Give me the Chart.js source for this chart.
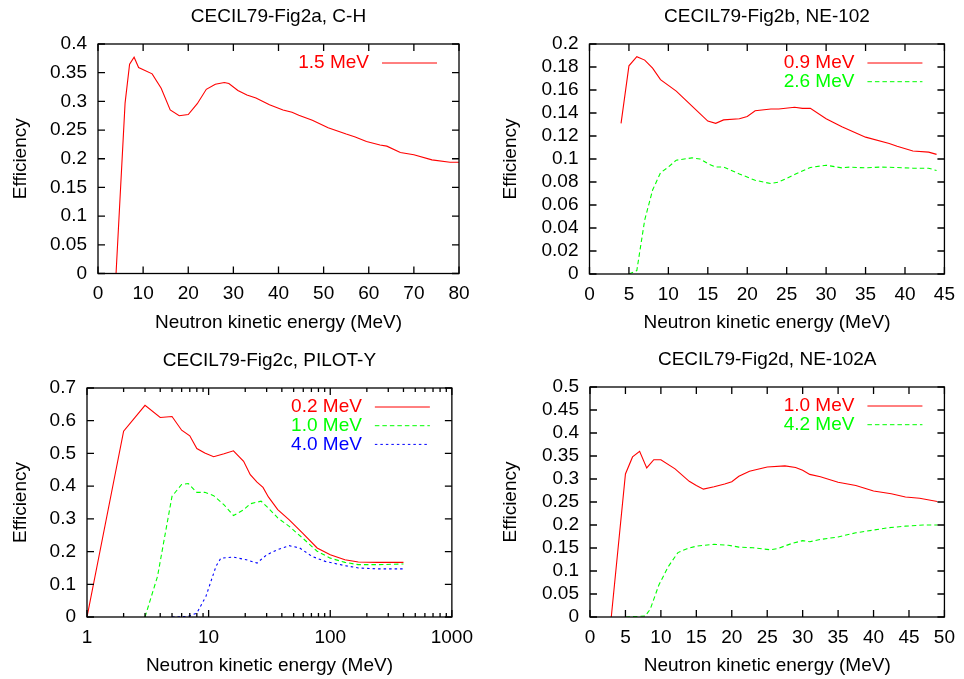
<!DOCTYPE html>
<html>
<head>
<meta charset="utf-8">
<script src="https://cdn.jsdelivr.net/npm/chart.js@4.4.1/dist/chart.umd.min.js"></script>
<style>
  body { margin: 0; background: #fff; width: 964px; height: 679px; position: relative; overflow: hidden; }
  canvas { position: absolute; }
</style>
</head>
<body>
<canvas id="figA" style="left:0;top:0"></canvas>
<canvas id="figB" style="left:482px;top:0"></canvas>
<canvas id="figC" style="left:0;top:340px"></canvas>
<canvas id="figD" style="left:482px;top:340px"></canvas>
<script>
// Fig 2a, C-H, threshold 1.5 MeV
const energyA = [4, 6, 7, 8, 9, 12, 14, 16, 18, 20, 22, 24, 26, 28, 29, 31, 33, 35, 38, 41, 43, 44.5, 47.5, 51, 55, 57, 59.5, 62.5, 64, 67, 70, 74, 78, 80];
const effA15 = [0, 0.297, 0.365, 0.377, 0.359, 0.348, 0.323, 0.285, 0.275, 0.277, 0.296, 0.321, 0.330, 0.333, 0.331, 0.319, 0.311, 0.306, 0.294, 0.285, 0.281, 0.276, 0.267, 0.254, 0.243, 0.238, 0.230, 0.224, 0.222, 0.211, 0.207, 0.198, 0.194, 0.194];

// Fig 2b, NE-102
const energyB09 = [4, 5, 6, 7, 8, 9, 11, 13, 15, 16, 17, 19, 20, 21, 23, 24, 26, 27, 28, 30, 32, 34, 35, 38, 39, 41, 43, 44];
const effB09 = [0.131, 0.181, 0.189, 0.186, 0.179, 0.169, 0.159, 0.146, 0.133, 0.131, 0.134, 0.135, 0.137, 0.142, 0.1435, 0.1435, 0.145, 0.144, 0.144, 0.135, 0.128, 0.122, 0.119, 0.1135, 0.111, 0.107, 0.106, 0.104];
const energyB26 = [5, 6, 7, 8, 9, 10, 11, 13, 14, 15, 16, 17, 19, 21, 23, 24, 26, 28, 30, 32, 33, 34, 35, 37, 39, 41, 43, 44];
const effB26 = [0, 0.003, 0.047, 0.073, 0.088, 0.093, 0.099, 0.101, 0.100, 0.096, 0.093, 0.093, 0.087, 0.0815, 0.0786, 0.080, 0.0865, 0.0926, 0.0946, 0.0923, 0.093, 0.0926, 0.0923, 0.093, 0.0926, 0.092, 0.092, 0.090];

// Fig 2c, PILOT-Y
const energyC02 = [1, 2, 3, 4, 5, 6, 7, 8, 9.3, 11, 13.4, 16, 19.4, 22, 25, 28, 31, 37, 46, 59, 78, 100, 132, 170, 245, 400];
const effC02 = [0, 0.568, 0.647, 0.610, 0.613, 0.571, 0.554, 0.515, 0.501, 0.490, 0.499, 0.508, 0.476, 0.435, 0.412, 0.396, 0.367, 0.328, 0.297, 0.257, 0.211, 0.190, 0.175, 0.168, 0.167, 0.167];
const energyC10 = [3, 3.8, 5, 6, 6.8, 8, 9.3, 11, 13.4, 16, 19.4, 22, 27, 31, 37, 46, 59, 78, 100, 132, 170, 245, 400];
const effC10 = [0, 0.124, 0.369, 0.405, 0.408, 0.381, 0.381, 0.371, 0.343, 0.310, 0.328, 0.346, 0.354, 0.333, 0.303, 0.277, 0.242, 0.201, 0.180, 0.167, 0.160, 0.160, 0.162];
const energyC40 = [5, 6.8, 8, 9.5, 11.5, 12.6, 16, 20.4, 25, 30, 37, 46, 56, 71, 91, 132, 170, 245, 400];
const effC40 = [0, 0.002, 0.012, 0.063, 0.155, 0.180, 0.183, 0.175, 0.165, 0.190, 0.206, 0.218, 0.211, 0.185, 0.170, 0.157, 0.150, 0.147, 0.147];

// Fig 2d, NE-102A
const energyD10 = [3, 5, 6, 7, 8, 9, 10, 12, 14, 15, 16, 17.5, 19, 20, 21, 22.5, 25, 27.5, 29, 30, 31, 32.5, 35, 37.5, 40, 42.5, 44.5, 46.5, 49];
const effD10 = [0, 0.311, 0.348, 0.360, 0.324, 0.342, 0.342, 0.322, 0.295, 0.286, 0.278, 0.283, 0.289, 0.294, 0.306, 0.317, 0.326, 0.3285, 0.325, 0.319, 0.310, 0.305, 0.293, 0.286, 0.274, 0.268, 0.261, 0.258, 0.251];
const energyD42 = [5, 7.8, 8.5, 9.7, 11, 12.4, 13.6, 15, 16, 17.5, 19.5, 21, 23, 25.5, 26.5, 28.5, 30, 31, 32.5, 35, 37.5, 40, 42, 44.5, 47, 49];
const effD42 = [0, 0.002, 0.017, 0.069, 0.1085, 0.14, 0.148, 0.154, 0.1556, 0.158, 0.156, 0.152, 0.1505, 0.146, 0.149, 0.160, 0.166, 0.1635, 0.1686, 0.174, 0.183, 0.189, 0.194, 0.1975, 0.200, 0.200];

const logTicks = [1, 10, 100, 1000];

const FONT = { family: "'Liberation Sans', Arial, sans-serif", size: 19 };
const RED = "#ff0000", GREEN = "#00ff00", BLUE = "#0000ff";

function pts(xs, ys) {
  return xs.map((x, i) => ({ x: x, y: ys[i] }));
}

// gnuplot style frame with inward ticks on all four sides
const frameTicks = {
  id: "frameTicks",
  afterDatasetsDraw(chart) {
    const { ctx, chartArea: a, scales: { x, y } } = chart;
    ctx.save();
    ctx.strokeStyle = "#000";
    ctx.lineWidth = 1.3;
    ctx.beginPath();
    const major = 7, minor = 4;
    x.ticks.forEach((t) => {
      const px = x.getPixelForValue(t.value);
      ctx.moveTo(px, a.bottom); ctx.lineTo(px, a.bottom - major);
      ctx.moveTo(px, a.top); ctx.lineTo(px, a.top + major);
    });
    if (x.type === "logarithmic") {
      for (let d = 1; d < 1000; d *= 10) {
        for (let k = 2; k <= 9; k++) {
          const px = x.getPixelForValue(d * k);
          ctx.moveTo(px, a.bottom); ctx.lineTo(px, a.bottom - minor);
          ctx.moveTo(px, a.top); ctx.lineTo(px, a.top + minor);
        }
      }
    }
    y.ticks.forEach((t) => {
      const py = y.getPixelForValue(t.value);
      ctx.moveTo(a.left, py); ctx.lineTo(a.left + major, py);
      ctx.moveTo(a.right, py); ctx.lineTo(a.right - major, py);
    });
    ctx.stroke();
    ctx.strokeRect(a.left, a.top, a.right - a.left, a.bottom - a.top);
    ctx.restore();
  },
};

// key inside the top right corner: text right aligned, sample line after it
const keyBox = {
  id: "keyBox",
  afterDraw(chart) {
    const { ctx, chartArea: a } = chart;
    ctx.save();
    ctx.font = FONT.size + "px " + FONT.family;
    ctx.textAlign = "right";
    ctx.textBaseline = "middle";
    chart.data.datasets.forEach((ds, i) => {
      const yy = a.top + 19 + i * 18.7;
      ctx.fillStyle = ds.borderColor;
      ctx.fillText(ds.label, a.right - 90, yy);
      ctx.strokeStyle = ds.borderColor;
      ctx.lineWidth = 1;
      ctx.setLineDash(ds.borderDash || []);
      ctx.beginPath();
      ctx.moveTo(a.right - 77, yy);
      ctx.lineTo(a.right - 22, yy);
      ctx.stroke();
    });
    ctx.restore();
  },
};

function makePanel(id, box, title, series, xOpts, yOpts) {
  const canvas = document.getElementById(id);
  canvas.width = box.w;
  canvas.height = box.h;
  canvas.style.width = box.w + "px";
  canvas.style.height = box.h + "px";

  const datasets = series.map((s) => ({
    label: s.label,
    data: s.data,
    borderColor: s.color,
    borderWidth: 1.1,
    borderDash: s.dash,
    pointRadius: 0,
    tension: 0,
    fill: false,
  }));

  return new Chart(canvas, {
    type: "line",
    data: { datasets },
    options: {
      responsive: false,
      animation: false,
      layout: { padding: { left: 0, right: box.w - box.right, top: box.top - 38.4, bottom: 0 } },
      plugins: {
        legend: { display: false },
        tooltip: { enabled: false },
        title: {
          display: true,
          text: title,
          color: "#000",
          fullSize: false,
          font: { family: FONT.family, size: FONT.size, weight: "normal" },
          padding: { top: 0, bottom: 15.6 },
        },
      },
      scales: {
        x: Object.assign({
          type: "linear",
          grid: { display: false, drawTicks: false },
          border: { display: false },
          title: {
            display: true, text: "Neutron kinetic energy (MeV)", color: "#000", font: FONT,
            padding: { top: 0, bottom: box.h - box.bottom - 49 - 11.4 },
          },
          afterFit(scale) { scale.height = box.h - box.bottom; },
        }, xOpts),
        y: Object.assign({
          type: "linear",
          grid: { display: false, drawTicks: false },
          border: { display: false },
          title: {
            display: true, text: "Efficiency", color: "#000", font: FONT,
            padding: { top: box.ytitle - 11.4, bottom: 0 },
          },
          afterFit(scale) { scale.width = box.left; },
        }, yOpts),
      },
    },
    plugins: [frameTicks, keyBox],
  });
}

const yTicks = (step) => ({ color: "#000", font: FONT, padding: 11, stepSize: step, autoSkip: false, callback: (v) => String(+v.toFixed(3)) });
const xTicks = (step) => ({ color: "#000", font: FONT, padding: 9, maxRotation: 0, stepSize: step, autoSkip: false });

makePanel("figA",
  { w: 482, h: 340, left: 98, right: 459, top: 44, bottom: 273.5, ytitle: 20.5 },
  "CECIL79-Fig2a, C-H",
  [{ label: "1.5 MeV", data: pts(energyA, effA15), color: RED, dash: [] }],
  { min: 0, max: 80, ticks: xTicks(10) },
  { min: 0, max: 0.4, ticks: yTicks(0.05) });

makePanel("figB",
  { w: 482, h: 340, left: 107.5, right: 469, top: 44, bottom: 274, ytitle: 28.7 },
  "CECIL79-Fig2b, NE-102",
  [{ label: "0.9 MeV", data: pts(energyB09, effB09), color: RED, dash: [] },
   { label: "2.6 MeV", data: pts(energyB26, effB26), color: GREEN, dash: [4.5, 3] }],
  { min: 0, max: 45, ticks: xTicks(5) },
  { min: 0, max: 0.2, ticks: yTicks(0.02) });

makePanel("figC",
  { w: 482, h: 339, left: 87, right: 459, top: 48, bottom: 277, ytitle: 20.5 },
  "CECIL79-Fig2c, PILOT-Y",
  [{ label: "0.2 MeV", data: pts(energyC02, effC02), color: RED, dash: [] },
   { label: "1.0 MeV", data: pts(energyC10, effC10), color: GREEN, dash: [4.5, 3] },
   { label: "4.0 MeV", data: pts(energyC40, effC40), color: BLUE, dash: [2.5, 3] }],
  {
    type: "logarithmic", min: 1, max: 1000,
    ticks: { color: "#000", font: FONT, padding: 9, maxRotation: 0, autoSkip: false, callback: (v) => String(v) },
    afterBuildTicks(scale) { scale.ticks = logTicks.map((v) => ({ value: v })); },
  },
  { min: 0, max: 0.7, ticks: yTicks(0.1) });

makePanel("figD",
  { w: 482, h: 339, left: 108, right: 469, top: 47, bottom: 277, ytitle: 28.7 },
  "CECIL79-Fig2d, NE-102A",
  [{ label: "1.0 MeV", data: pts(energyD10, effD10), color: RED, dash: [] },
   { label: "4.2 MeV", data: pts(energyD42, effD42), color: GREEN, dash: [4.5, 3] }],
  { min: 0, max: 50, ticks: xTicks(5) },
  { min: 0, max: 0.5, ticks: yTicks(0.05) });
</script>
</body>
</html>
